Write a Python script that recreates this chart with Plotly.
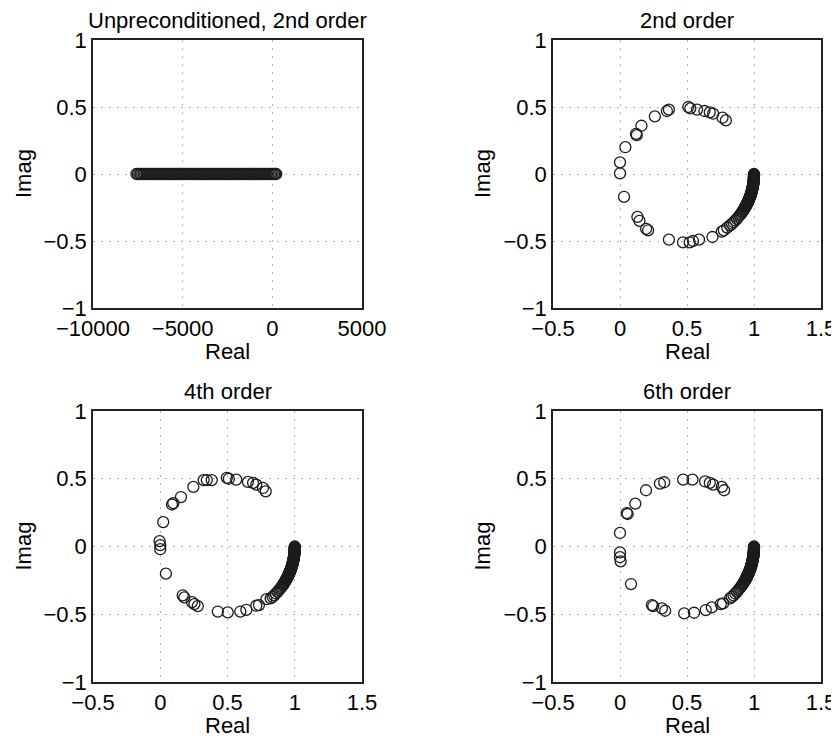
import plotly.graph_objects as go

# ---------------- data ----------------
titles = ["Unpreconditioned, 2nd order", "2nd order", "4th order", "6th order"]

# Unpreconditioned eigenvalues: all real, densely spread along the real axis
unprec_re = [-7580, -7500, -7420, -7340, -7260, -7180, -7100, -7020, -6940, -6860,
             -6780, -6700, -6620, -6540, -6460, -6380, -6300, -6220, -6140, -6060,
             -5980, -5900, -5820, -5740, -5660, -5580, -5500, -5420, -5340, -5260,
             -5180, -5100, -5020, -4940, -4860, -4780, -4700, -4620, -4540, -4460,
             -4380, -4300, -4220, -4140, -4060, -3980, -3900, -3820, -3740, -3660,
             -3580, -3500, -3420, -3340, -3260, -3180, -3100, -3020, -2940, -2860,
             -2780, -2700, -2620, -2540, -2460, -2380, -2300, -2220, -2140, -2060,
             -1980, -1900, -1820, -1740, -1660, -1580, -1500, -1420, -1340, -1260,
             -1180, -1100, -1020, -940, -860, -780, -700, -620, -540, -460,
             -380, -300, -220, -140, -60, 20, 100, 160, 220]
unprec_im = [0.0] * len(unprec_re)

# dense cluster of eigenvalues near 1 (shared shape in each preconditioned panel)
cluster_re = [1.000, 1.000, 1.000, 0.999, 0.999, 0.998, 0.997, 0.996, 0.995, 0.994,
              0.992, 0.991, 0.989, 0.987, 0.985, 0.983, 0.981, 0.978, 0.976, 0.973,
              0.970, 0.967, 0.964, 0.960, 0.957, 0.953, 0.949, 0.945, 0.941, 0.937,
              0.933, 0.929, 0.924, 0.919, 0.915, 0.910, 0.902, 0.894, 0.883, 0.872,
              0.860, 0.847, 0.835, 0.821,
              1.000, 1.000, 0.9995, 0.999, 0.998, 0.998, 0.997, 0.996, 0.995, 0.993,
              0.992, 0.990, 0.988, 0.986, 0.984, 0.982, 0.979, 0.977, 0.974, 0.971,
              0.968, 0.965, 0.962, 0.959, 0.955, 0.951, 0.947, 0.944, 0.939, 0.935]
cluster_im = [0.000, -0.009, -0.017, -0.026, -0.035, -0.044, -0.052, -0.061, -0.070, -0.078,
              -0.087, -0.095, -0.104, -0.112, -0.121, -0.129, -0.138, -0.146, -0.155, -0.163,
              -0.171, -0.179, -0.187, -0.195, -0.203, -0.211, -0.219, -0.227, -0.235, -0.242,
              -0.250, -0.258, -0.265, -0.272, -0.280, -0.287, -0.297, -0.308, -0.321, -0.335,
              -0.347, -0.360, -0.372, -0.383,
              -0.004, -0.013, -0.022, -0.031, -0.039, -0.048, -0.057, -0.065, -0.074, -0.083,
              -0.091, -0.100, -0.108, -0.117, -0.125, -0.134, -0.142, -0.150, -0.159, -0.167,
              -0.175, -0.183, -0.191, -0.199, -0.207, -0.215, -0.223, -0.231, -0.239, -0.246]

o2_re = [0.0, 0.0, 0.04, 0.12, 0.125, 0.16, 0.26, 0.35, 0.365, 0.51, 0.525, 0.575, 0.63,
         0.67, 0.695, 0.765, 0.79,
         0.03, 0.13, 0.145, 0.195, 0.21, 0.365, 0.47, 0.52, 0.545, 0.59, 0.69, 0.76, 0.775,
         0.80] + cluster_re
o2_im = [0.087, 0.005, 0.20, 0.30, 0.29, 0.36, 0.43, 0.47, 0.48, 0.50, 0.49, 0.48, 0.47,
         0.46, 0.45, 0.42, 0.40,
         -0.17, -0.32, -0.35, -0.41, -0.42, -0.49, -0.51, -0.51, -0.50, -0.49, -0.47, -0.43, -0.42,
         -0.40] + cluster_im

o4_re = [-0.005, 0.0, 0.0, 0.022, 0.087, 0.097, 0.154, 0.246, 0.323, 0.346, 0.383, 0.495,
         0.51, 0.565, 0.652, 0.69, 0.714, 0.764, 0.784,
         0.042, 0.167, 0.179, 0.236, 0.254, 0.279, 0.428, 0.502, 0.595, 0.64, 0.714, 0.734,
         0.789] + cluster_re
o4_im = [0.04, 0.01, -0.02, 0.18, 0.31, 0.32, 0.365, 0.44, 0.49, 0.49, 0.49, 0.506,
         0.50, 0.494, 0.477, 0.47, 0.457, 0.432, 0.407,
         -0.20, -0.36, -0.375, -0.41, -0.425, -0.44, -0.48, -0.486, -0.48, -0.467, -0.437, -0.432,
         -0.388] + cluster_im

o6_re = [0.0, 0.05, 0.057, 0.114, 0.194, 0.298, 0.33, 0.471, 0.541, 0.635, 0.67, 0.695,
         0.76, 0.777,
         0.0, 0.0, 0.005, 0.082, 0.238, 0.248, 0.313, 0.337, 0.479, 0.553, 0.64, 0.685,
         0.752, 0.769] + cluster_re
o6_im = [0.10, 0.247, 0.24, 0.316, 0.415, 0.464, 0.474, 0.494, 0.494, 0.48, 0.47, 0.457,
         0.44, 0.415,
         -0.044, -0.079, -0.11, -0.277, -0.432, -0.44, -0.457, -0.474, -0.494, -0.489, -0.469,
         -0.449, -0.425, -0.42] + cluster_im

x_ticks_unprec = [-10000, -5000, 0, 5000]
x_ticktext_unprec = ["\u221210000", "\u22125000", "0", "5000"]
x_ticks_prec = [-0.5, 0, 0.5, 1, 1.5]
x_ticktext_prec = ["\u22120.5", "0", "0.5", "1", "1.5"]
y_ticks = [-1, -0.5, 0, 0.5, 1]
y_ticktext = ["\u22121", "\u22120.5", "0", "0.5", "1"]

# ---------------- figure ----------------
OFF = 8                       # page body margin offsets the figure by 8 px
W, H = 839 - OFF, 738 - OFF
FONT = "Liberation Sans, Arial, Helvetica, sans-serif"
FS = 22

# panel boxes in window pixels (left, right, top, bottom)
boxes = [(93, 362, 40, 308), (553, 821, 40, 308), (93, 362, 411, 682), (553, 821, 411, 682)]


def px(v):
    return (v - OFF) / W


def py(v):
    return 1 - (v - OFF) / H


fig = go.Figure()
series = [(unprec_re, unprec_im), (o2_re, o2_im), (o4_re, o4_im), (o6_re, o6_im)]
for i, (xs, ys) in enumerate(series):
    sfx = "" if i == 0 else str(i + 1)
    fig.add_trace(go.Scatter(
        x=xs, y=ys, mode="markers", xaxis="x" + sfx, yaxis="y" + sfx,
        marker=dict(symbol="circle-open", size=11, color="#1c1c1c",
                    line=dict(width=1.3, color="#1c1c1c")),
        showlegend=False, hoverinfo="skip"))

layout = dict(width=W, height=H, margin=dict(l=0, r=0, t=0, b=0, pad=0, autoexpand=False),
              paper_bgcolor="white", plot_bgcolor="white",
              font=dict(family=FONT, size=FS, color="black"), showlegend=False)

annotations = []
for i, (l, r, t, b) in enumerate(boxes):
    sfx = "" if i == 0 else str(i + 1)
    xd = [px(l), px(r)]
    yd = [py(b), py(t)]
    if i == 0:
        xr, xt, xtt = [-10000, 5000], x_ticks_unprec, x_ticktext_unprec
    else:
        xr, xt, xtt = [-0.5, 1.5], x_ticks_prec, x_ticktext_prec
    axis_common = dict(showline=True, mirror=True, linecolor="#222222", linewidth=1.5,
                       showgrid=True, gridcolor="#b5b5b5", griddash="2px,6px", gridwidth=1,
                       zeroline=False, ticks="", automargin=False,
                       tickfont=dict(size=FS, family=FONT, color="black"))
    layout["xaxis" + sfx] = dict(domain=xd, range=xr, tickmode="array", tickvals=xt, ticktext=xtt,
                                 anchor="y" + sfx, **axis_common)
    layout["yaxis" + sfx] = dict(domain=yd, range=[-1, 1], tickmode="array", tickvals=y_ticks,
                                 ticktext=y_ticktext, anchor="x" + sfx, **axis_common)
    cx = px((l + r) / 2)
    annotations.append(dict(text=titles[i], x=cx, y=py(t - 19), xref="paper", yref="paper",
                            showarrow=False, xanchor="center", yanchor="middle",
                            font=dict(size=FS, family=FONT)))
    annotations.append(dict(text="Real", x=cx, y=py(b + 43), xref="paper", yref="paper",
                            showarrow=False, xanchor="center", yanchor="middle",
                            font=dict(size=FS, family=FONT)))
    ylx = 23 if l < 200 else 482
    annotations.append(dict(text="Imag", x=px(ylx), y=py((t + b) / 2), xref="paper", yref="paper",
                            showarrow=False, xanchor="center", yanchor="middle", textangle=-90,
                            font=dict(size=FS, family=FONT)))

layout["annotations"] = annotations
fig.update_layout(**layout)
fig.write_html("out.html")
